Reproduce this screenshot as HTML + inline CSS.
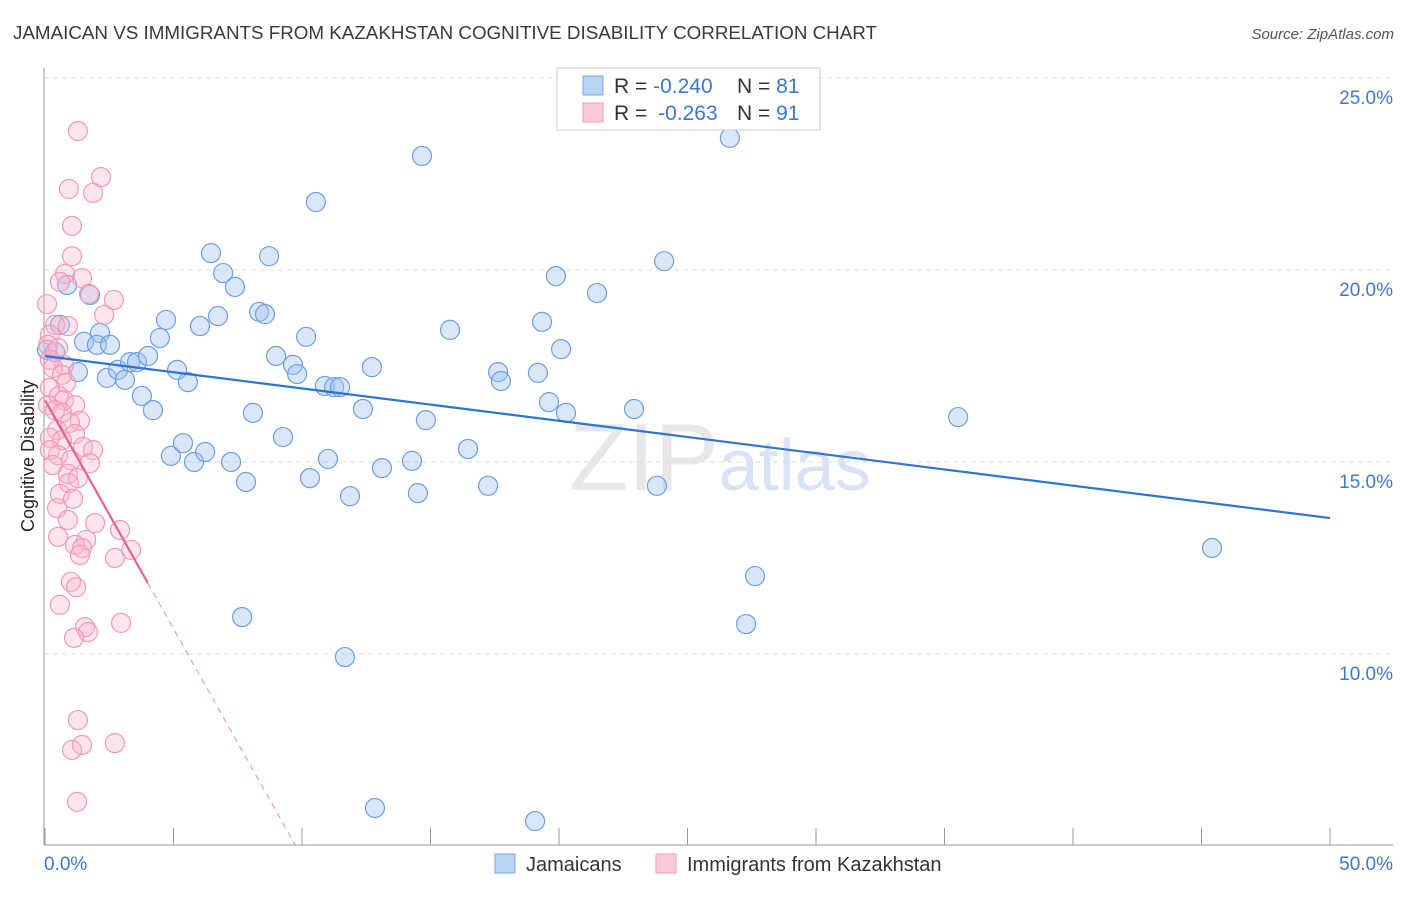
<!DOCTYPE html>
<html><head><meta charset="utf-8"><style>
body{margin:0;background:#fff;font-family:"Liberation Sans",sans-serif}
svg text{font-family:"Liberation Sans",sans-serif}
</style></head><body>
<svg id="chart" width="1406" height="892" xmlns="http://www.w3.org/2000/svg">
<text x="13" y="39" font-size="18" fill="#3a3a3a" textLength="864" lengthAdjust="spacingAndGlyphs">JAMAICAN VS IMMIGRANTS FROM KAZAKHSTAN COGNITIVE DISABILITY CORRELATION CHART</text>
<text x="1394" y="39" font-size="15" fill="#555" text-anchor="end" font-style="italic">Source: ZipAtlas.com</text>
<text x="720" y="490" font-size="96" fill="#ddd" text-anchor="middle" font-family="Liberation Serif" opacity="0.7">ZIP<tspan fill="#c8daf2" font-family="Liberation Sans" font-size="72">atlas</tspan></text>
<g id="grid"></g>
<g id="axes"></g>
<g id="marks"></g>
<text transform="translate(34,456) rotate(-90)" font-size="18" fill="#222" text-anchor="middle">Cognitive Disability</text>
<g>
<rect x="557" y="68" width="263" height="62" fill="#fff" stroke="#ccc"/>
<rect x="583" y="76" width="20" height="19" fill="#b9d3f5" stroke="#7aa7e6"/>
<rect x="583" y="103" width="20" height="19" fill="#fbc9d8" stroke="#f09ab5"/>
<text x="614" y="93" font-size="21" fill="#333">R = <tspan fill="#3d78d0">-0.240</tspan><tspan x="737">N = </tspan><tspan fill="#3d78d0">81</tspan></text>
<text x="614" y="120" font-size="21" fill="#333">R = <tspan fill="#3d78d0" dx="5">-0.263</tspan><tspan x="737">N = </tspan><tspan fill="#3d78d0">91</tspan></text>
</g>
<g>
<rect x="495" y="854" width="20" height="19" fill="#b9d3f5" stroke="#7aa7e6"/>
<text x="526" y="871" font-size="20" fill="#333">Jamaicans</text>
<rect x="656" y="854" width="20" height="19" fill="#fbc9d8" stroke="#f09ab5"/>
<text x="687" y="871" font-size="20" fill="#333">Immigrants from Kazakhstan</text>
</g>
</svg>
<script>
const blueX=[0.86,1.75,0.58,0.08,0.39,2.14,1.52,2.02,2.53,1.28,2.41,2.84,3.11,3.31,3.58,4.01,3.77,4.20,4.47,4.71,5.14,5.56,4.90,5.37,5.80,6.23,6.03,6.46,6.73,6.93,7.39,7.24,7.82,8.09,8.33,8.56,8.72,8.99,9.26,9.65,9.81,10.16,10.31,10.54,10.89,11.25,11.48,11.01,11.87,12.37,12.72,13.11,12.84,11.67,7.67,14.28,14.51,14.67,14.82,15.76,16.46,17.24,17.63,17.74,19.18,19.34,19.61,19.88,20.08,20.27,21.48,22.92,23.81,24.09,26.65,27.63,27.28,19.07,35.53,45.41];
const blueY=[19.61,19.35,18.57,17.92,17.86,18.36,18.13,18.05,18.05,17.34,17.19,17.40,17.14,17.60,17.60,17.76,16.72,16.35,18.23,18.70,17.40,17.08,15.16,15.49,15.00,15.26,18.54,20.44,18.80,19.92,19.56,15.00,14.48,16.28,18.91,18.85,20.36,17.76,15.65,17.53,17.29,18.26,14.58,21.77,16.98,16.95,16.95,15.08,14.11,16.38,17.47,14.84,5.99,9.92,10.96,15.03,14.19,22.97,16.09,18.44,15.34,14.38,17.34,17.11,17.32,18.65,16.56,19.84,17.94,16.28,19.40,16.38,14.38,20.23,23.44,12.03,10.78,5.65,16.17,12.76];
const pinkX=[1.28,0.93,2.18,1.87,1.05,1.05,0.78,1.44,0.58,1.71,2.68,0.08,2.30,0.39,0.89,0.19,0.12,0.51,0.19,0.74,0.31,0.66,0.82,0.19,0.54,0.74,1.17,0.12,0.39,0.66,1.36,0.97,0.47,0.19,1.17,0.66,1.48,1.87,0.19,0.51,1.01,1.75,0.31,0.89,1.28,0.93,0.58,1.09,0.47,0.89,1.95,2.92,0.51,1.60,1.17,1.44,1.36,3.35,2.72,1.01,1.21,0.58,1.56,2.96,1.67,1.13,1.28,1.05,1.44,2.72,1.25];
const pinkY=[23.62,22.11,22.42,22.01,21.15,20.36,19.90,19.79,19.69,19.38,19.22,19.11,18.83,18.57,18.54,18.31,18.05,17.97,17.66,17.53,17.45,17.27,17.06,16.93,16.72,16.61,16.48,16.48,16.35,16.28,16.07,16.02,15.83,15.63,15.73,15.57,15.39,15.31,15.31,15.18,15.05,14.97,14.92,14.69,14.58,14.45,14.17,14.04,13.80,13.49,13.41,13.23,13.05,12.97,12.84,12.76,12.58,12.71,12.50,11.88,11.74,11.28,10.70,10.81,10.57,10.42,8.28,7.50,7.63,7.68,6.15];
const blueTrend=[17.76,-0.0844];
const pinkTrend=[16.61,-1.19];
const pinkSolidEnd=4.0;
const xTickLabels=["0.0%","50.0%"];
const yTicks=[10,15,20,25];
const xTicks=[0,5,10,15,20,25,30,35,40,45,50];

const NS="http://www.w3.org/2000/svg";
const sx=v=>45+v*25.7;
const sy=v=>78+(25-v)*38.4;
function mk(parent,tag,attrs){const e=document.createElementNS(NS,tag);for(const k in attrs)e.setAttribute(k,attrs[k]);parent.appendChild(e);return e;}
const grid=document.getElementById('grid'),axes=document.getElementById('axes'),marks=document.getElementById('marks');
yTicks.forEach(t=>{
  const l=mk(grid,'line',{x1:44,x2:1393,y1:sy(t),y2:sy(t),stroke:'#ddd','stroke-dasharray':'5,4'});
  
  
  const tx=mk(axes,'text',{x:1393,y:sy(t)+26,'font-size':19,fill:'#3d78d0','text-anchor':'end'});
  tx.textContent=t.toFixed(1)+'%';
  
  
});
const ya=mk(axes,'line',{x1:44,x2:44,y1:68,y2:845,stroke:'#999'});


const xa=mk(axes,'line',{x1:44,x2:1393,y1:845,y2:845,stroke:'#999'});


xTicks.forEach(t=>{
  const l=mk(axes,'line',{x1:sx(t),x2:sx(t),y1:828,y2:845,stroke:'#999'});
  
  
});
[[0,'start',44],[50,'end',1393]].forEach((d,i)=>{
  const tx=mk(axes,'text',{x:d[2],y:870,'font-size':19,fill:'#3d78d0','text-anchor':d[1]});
  tx.textContent=xTickLabels[i];
  
  
});
blueX.forEach((x,i)=>{
  const c=mk(marks,'circle',{cx:sx(x),cy:sy(blueY[i]),r:9.5,fill:'rgba(160,196,240,0.4)',stroke:'#6c9fe2','stroke-width':1.2});
  
  
});
pinkX.forEach((x,i)=>{
  const c=mk(marks,'circle',{cx:sx(x),cy:sy(pinkY[i]),r:9.5,fill:'rgba(248,180,200,0.35)',stroke:'#f09ab5','stroke-width':1.2});
  
  
});
const bl=mk(marks,'line',{x1:sx(0),y1:sy(blueTrend[0]),x2:sx(50),y2:sy(blueTrend[0]+blueTrend[1]*50),stroke:'#2f73d6','stroke-width':2.2});


const pl=mk(marks,'line',{x1:sx(0),y1:sy(pinkTrend[0]),x2:sx(pinkSolidEnd),y2:sy(pinkTrend[0]+pinkTrend[1]*pinkSolidEnd),stroke:'#e8628e','stroke-width':2.2});


const xEnd=(5.0-pinkTrend[0])/pinkTrend[1];
const pd=mk(marks,'line',{x1:sx(pinkSolidEnd),y1:sy(pinkTrend[0]+pinkTrend[1]*pinkSolidEnd),x2:sx(xEnd),y2:sy(5.0),stroke:'#f09ab5','stroke-width':1.2,'stroke-dasharray':'6,5'});


</script>
</body></html>
